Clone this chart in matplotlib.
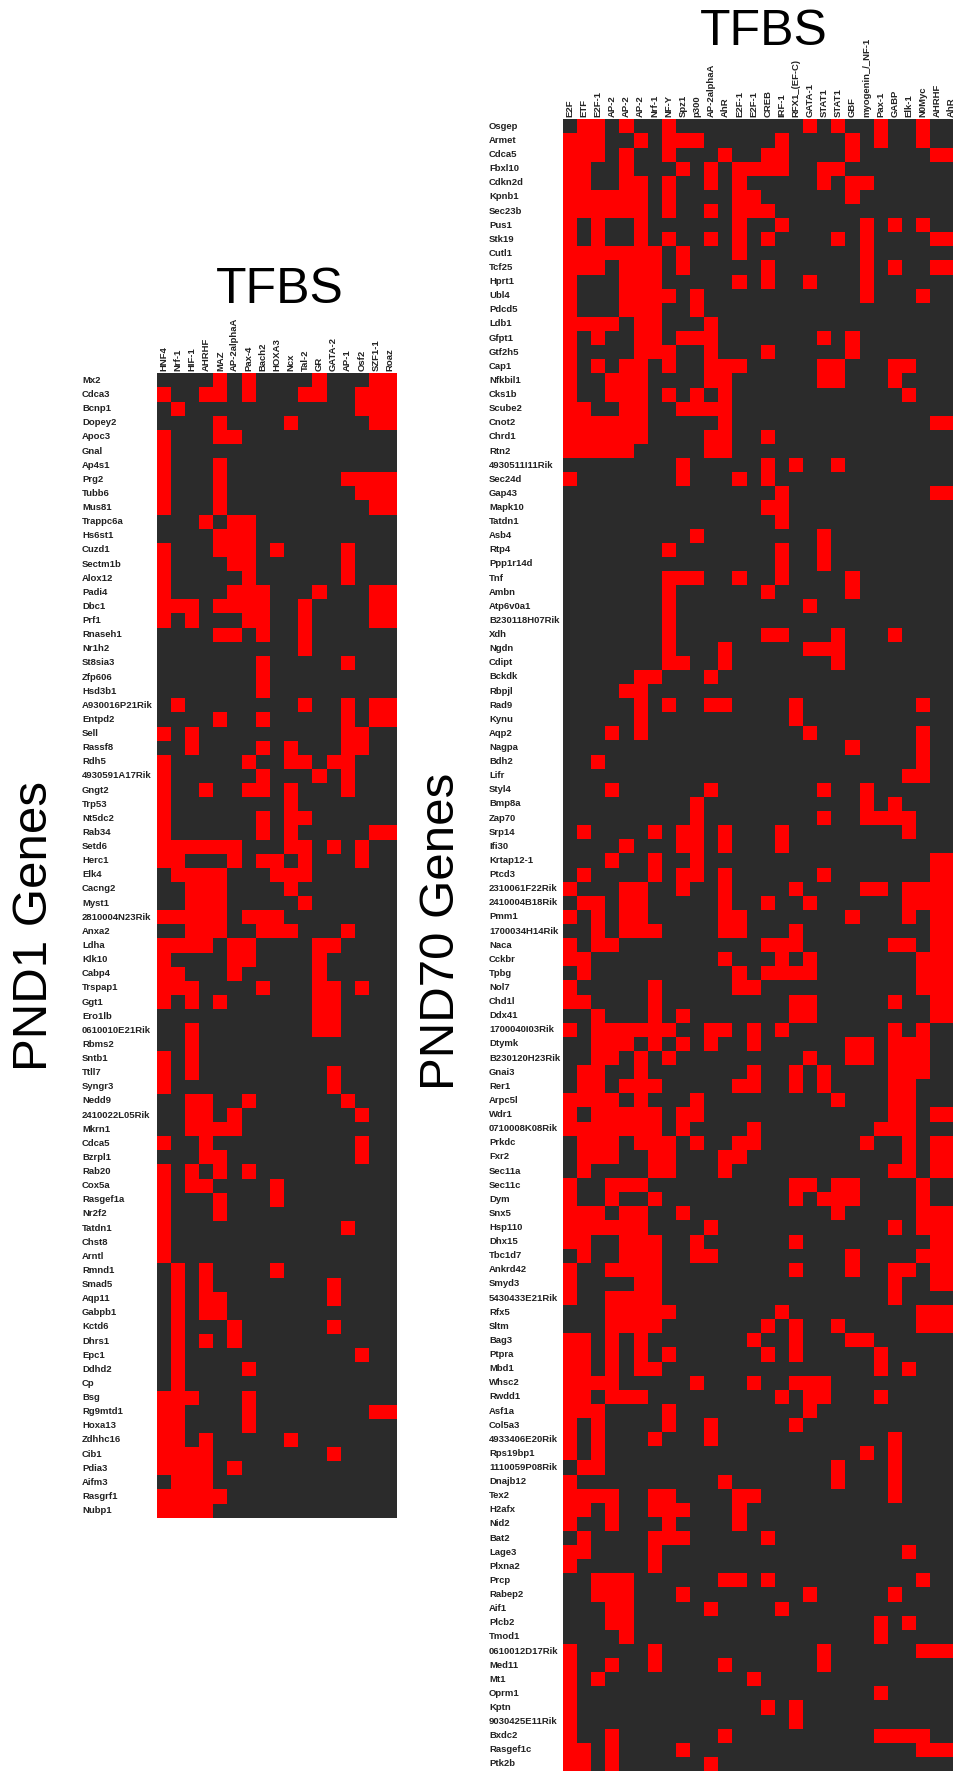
import numpy as np
import matplotlib
matplotlib.use("Agg")
import matplotlib.pyplot as plt
from matplotlib.colors import ListedColormap

plt.rcParams['font.family'] = ['Liberation Sans', 'DejaVu Sans']

# PND1 panel
pnd1_tfbs = ["HNF4", "Nrf-1", "HIF-1", "AHRHF", "MAZ", "AP-2alphaA", "Pax-4", "Bach2", "HOXA3",
             "Ncx", "Tal-2", "GR", "GATA-2", "AP-1", "Osf2", "SZF1-1", "Roaz"]
pnd1_genes = ["Mx2", "Cdca3", "Bcnp1", "Dopey2", "Apoc3", "Gnal", "Ap4s1", "Prg2", "Tubb6", "Mus81",
              "Trappc6a", "Hs6st1", "Cuzd1", "Sectm1b", "Alox12", "Padi4", "Dbc1", "Prf1", "Rnaseh1", "Nr1h2",
              "St8sia3", "Zfp606", "Hsd3b1", "A930016P21Rik", "Entpd2", "Sell", "Rassf8", "Rdh5", "4930591A17Rik", "Gngt2",
              "Trp53", "Nt5dc2", "Rab34", "Setd6", "Herc1", "Elk4", "Cacng2", "Myst1", "2810004N23Rik", "Anxa2",
              "Ldha", "Klk10", "Cabp4", "Trspap1", "Ggt1", "Ero1lb", "0610010E21Rik", "Rbms2", "Sntb1", "Ttll7",
              "Syngr3", "Nedd9", "2410022L05Rik", "Mkrn1", "Cdca5", "Bzrpl1", "Rab20", "Cox5a", "Rasgef1a", "Nr2f2",
              "Tatdn1", "Chst8", "Arntl", "Rmnd1", "Smad5", "Aqp11", "Gabpb1", "Kctd6", "Dhrs1", "Epc1",
              "Ddhd2", "Cp", "Bsg", "Rg9mtd1", "Hoxa13", "Zdhhc16", "Cib1", "Pdia3", "Aifm3", "Rasgrf1", "Nubp1"]
# for each gene, the columns that are red
pnd1_hits = [
    [4, 6, 11, 15, 16], [0, 3, 4, 6, 10, 11, 14, 15, 16], [1, 14, 15, 16], [4, 9, 15, 16],
    [0, 4, 5], [0], [0, 4], [0, 4, 13, 14, 15, 16], [0, 4, 14, 15, 16], [0, 4, 15, 16],
    [3, 5, 6], [4, 5, 6], [0, 4, 5, 6, 8, 13], [0, 5, 6, 13], [0, 6, 13],
    [0, 5, 6, 7, 11, 15, 16], [0, 1, 2, 4, 5, 6, 7, 10, 15, 16], [0, 2, 6, 7, 10, 15, 16],
    [4, 5, 7, 10], [10], [7, 13], [7], [7], [1, 10, 13, 15, 16], [4, 7, 13, 15, 16],
    [0, 2, 13, 14], [2, 7, 9, 13, 14], [0, 6, 9, 10, 12, 13], [0, 7, 11, 13], [0, 3, 6, 7, 9, 13],
    [0, 9], [0, 7, 9, 10], [0, 7, 9, 15, 16], [0, 1, 2, 3, 4, 5, 9, 10, 12, 14],
    [0, 1, 5, 7, 8, 10, 14], [1, 2, 3, 4, 8, 9, 10], [2, 3, 4, 9], [2, 3, 4, 10],
    [0, 1, 2, 3, 4, 6, 7, 8], [2, 3, 4, 7, 8, 9, 13],
    [0, 1, 2, 3, 5, 6, 11, 12], [0, 5, 6, 11], [0, 1, 5, 11], [0, 1, 2, 7, 11, 12, 14], [0, 2, 4, 11, 12],
    [11, 12], [2, 11, 12], [2], [0, 2], [0, 2, 12], [0, 12], [2, 3, 6, 13], [2, 3, 5, 14], [2, 3, 4, 5],
    [0, 3, 14], [3, 4, 14], [0, 2, 4, 6], [0, 2, 3, 8], [0, 4, 8], [0, 4], [0, 13], [0], [0],
    [1, 3, 8], [1, 3, 12], [1, 3, 4, 12], [1, 3, 4], [1, 5, 12], [1, 3, 5], [1, 14], [1, 6], [1],
    [0, 1, 2, 6], [0, 1, 6, 15, 16], [0, 1, 6], [0, 1, 3, 9], [0, 1, 2, 3, 12], [0, 1, 2, 3, 5],
    [1, 2, 3], [0, 1, 2, 3, 4], [0, 1, 2, 3],
]

# PND70 panel (runs off the right edge of the picture)
pnd70_tfbs = ["E2F", "ETF", "E2F-1", "AP-2", "AP-2", "AP-2", "Nrf-1", "NF-Y", "Spz1", "p300",
              "AP-2alphaA", "AhR", "E2F-1", "E2F-1", "CREB", "IRF-1", "RFX1_(EF-C)", "GATA-1", "STAT1", "STAT1",
              "GBF", "myogenin_/_NF-1", "Pax-1", "GABP", "Elk-1", "N0Myc", "AHRHF", "AhR"]
pnd70_genes = ["Osgep", "Armet", "Cdca5", "Fbxl10", "Cdkn2d", "Kpnb1", "Sec23b", "Pus1", "Stk19", "Cutl1",
               "Tcf25", "Hprt1", "Ubl4", "Pdcd5", "Ldb1", "Gfpt1", "Gtf2h5", "Cap1", "Nfkbil1", "Cks1b",
               "Scube2", "Cnot2", "Chrd1", "Rtn2", "4930511I11Rik", "Sec24d", "Gap43", "Mapk10", "Tatdn1", "Asb4",
               "Rtp4", "Ppp1r14d", "Tnf", "Ambn", "Atp6v0a1", "B230118H07Rik", "Xdh", "Ngdn", "Cdipt", "Bckdk",
               "Rbpjl", "Rad9", "Kynu", "Aqp2", "Nagpa", "Bdh2", "Lifr", "Styl4", "Bmp8a", "Zap70",
               "Srp14", "Ifi30", "Krtap12-1", "Ptcd3", "2310061F22Rik", "2410004B18Rik", "Pmm1", "1700034H14Rik", "Naca", "Cckbr",
               "Tpbg", "Nol7", "Chd1l", "Ddx41", "1700040I03Rik", "Dtymk", "B230120H23Rik", "Gnai3", "Rer1", "Arpc5l",
               "Wdr1", "0710008K08Rik", "Prkdc", "Fxr2", "Sec11a", "Sec11c", "Dym", "Snx5", "Hsp110", "Dhx15",
               "Tbc1d7", "Ankrd42", "Smyd3", "5430433E21Rik", "Rfx5", "Sltm", "Bag3", "Ptpra", "Mbd1", "Whsc2",
               "Rwdd1", "Asf1a", "Col5a3", "4933406E20Rik", "Rps19bp1", "1110059P08Rik", "Dnajb12", "Tex2", "H2afx", "Nid2",
               "Bat2", "Lage3", "Plxna2", "Prcp", "Rabep2", "Aif1", "Plcb2", "Tmod1", "0610012D17Rik", "Med11",
               "Mt1", "Oprm1", "Kptn", "9030425E11Rik", "Bxdc2", "Rasgef1c", "Ptk2b"]
pnd70_hits = [
    [1, 2, 4, 7, 17, 19, 22, 25],
    [0, 1, 2, 5, 7, 8, 9, 15, 20, 22, 25],
    [0, 1, 2, 4, 7, 11, 14, 15, 20, 26, 27],
    [0, 1, 4, 8, 10, 12, 13, 14, 15, 18, 19],
    [0, 1, 4, 5, 7, 10, 12, 18, 20, 21],
    [0, 1, 2, 3, 4, 5, 7, 12, 13, 20],
    [0, 1, 2, 3, 4, 5, 7, 10, 12, 13, 14],
    [0, 2, 5, 12, 15, 21, 23, 25],
    [0, 2, 5, 7, 10, 12, 14, 19, 21, 26, 27],
    [0, 1, 2, 3, 4, 5, 6, 8, 12, 21],
    [0, 1, 2, 4, 5, 6, 8, 14, 21, 23, 26, 27],
    [0, 4, 5, 6, 12, 14, 17, 21],
    [0, 4, 5, 6, 7, 9, 21, 25],
    [0, 4, 5, 6, 9],
    [0, 1, 2, 3, 5, 6, 10],
    [0, 2, 5, 6, 8, 9, 10, 18, 20],
    [0, 5, 6, 7, 10, 14, 20],
    [0, 2, 4, 5, 7, 10, 11, 12, 18, 19, 23, 24],
    [0, 3, 4, 5, 10, 11, 18, 19, 23],
    [0, 3, 4, 5, 7, 9, 11, 24],
    [0, 1, 4, 5, 8, 9, 10, 11],
    [0, 1, 2, 3, 4, 5, 11, 26, 27],
    [0, 1, 2, 3, 4, 5, 10, 11, 14],
    [0, 1, 2, 3, 4, 10, 11],
    [8, 14, 16, 19],
    [0, 8, 12, 14],
    [15, 26, 27],
    [14, 15],
    [15],
    [9, 18],
    [7, 15, 18],
    [15, 18],
    [7, 8, 9, 12, 15, 20],
    [7, 14, 20],
    [7, 17],
    [7],
    [7, 14, 15, 19, 23],
    [7, 11, 17, 18, 19],
    [7, 8, 11, 19],
    [5, 6, 10],
    [4, 5],
    [5, 7, 10, 11, 16, 25],
    [5, 16],
    [3, 5, 17, 25],
    [20, 25],
    [2, 25],
    [24, 25],
    [3, 10, 18, 21],
    [9, 21, 23],
    [9, 18, 21, 22, 23, 24],
    [1, 6, 8, 9, 11, 15, 24],
    [4, 8, 9, 11, 15],
    [3, 6, 9, 26, 27],
    [1, 6, 8, 9, 11, 18, 26, 27],
    [0, 4, 5, 8, 11, 16, 21, 22, 24, 25, 26, 27],
    [1, 2, 4, 5, 11, 14, 17, 24, 25, 26, 27],
    [0, 2, 4, 5, 11, 12, 20, 24, 26, 27],
    [2, 4, 5, 6, 11, 12, 16, 26, 27],
    [0, 2, 3, 14, 15, 16, 23, 24, 26, 27],
    [0, 1, 11, 15, 17, 25, 26, 27],
    [1, 12, 14, 15, 16, 17, 25, 26, 27],
    [0, 6, 12, 13, 25, 26, 27],
    [0, 1, 6, 16, 17, 23, 26, 27],
    [2, 6, 8, 16, 17, 26, 27],
    [0, 2, 3, 4, 5, 6, 7, 10, 11, 13, 15, 23, 25],
    [2, 3, 4, 6, 8, 10, 13, 20, 21, 23, 24, 25],
    [2, 3, 5, 7, 17, 20, 21, 23, 24, 25],
    [1, 2, 5, 13, 16, 18, 23, 24, 25],
    [1, 2, 4, 5, 6, 12, 13, 16, 18, 23, 24],
    [0, 1, 2, 3, 5, 9, 19, 23, 24],
    [0, 2, 3, 4, 5, 6, 8, 9, 23, 24, 26, 27],
    [0, 1, 2, 3, 4, 5, 6, 8, 13, 22, 23, 24],
    [1, 2, 3, 5, 6, 7, 9, 12, 13, 21, 24, 26, 27],
    [1, 2, 3, 6, 7, 11, 12, 24, 26, 27],
    [1, 6, 7, 11, 23, 24, 26, 27],
    [0, 3, 4, 5, 16, 17, 19, 20, 25],
    [0, 3, 6, 16, 18, 19, 20, 25],
    [0, 1, 2, 4, 5, 8, 19, 25, 26, 27],
    [0, 1, 2, 3, 4, 5, 10, 23, 25, 26, 27],
    [0, 1, 4, 5, 6, 9, 16, 26, 27],
    [1, 4, 5, 6, 9, 10, 20, 25, 26, 27],
    [0, 3, 4, 5, 6, 16, 20, 23, 24, 26, 27],
    [0, 5, 6, 23, 26, 27],
    [0, 3, 4, 5, 6, 23],
    [3, 4, 5, 6, 7, 15, 25, 26, 27],
    [3, 4, 5, 6, 14, 16, 19, 25, 26, 27],
    [0, 1, 3, 5, 13, 16, 20, 21],
    [0, 1, 3, 5, 7, 14, 16, 22],
    [0, 1, 3, 5, 6, 22, 24],
    [0, 1, 2, 3, 9, 13, 16, 17, 18],
    [0, 1, 3, 4, 5, 15, 17, 18, 22],
    [0, 1, 2, 7, 17],
    [0, 2, 7, 10, 16],
    [0, 2, 6, 10, 23],
    [0, 2, 21, 23],
    [1, 2, 19, 23],
    [0, 11, 19, 23],
    [0, 1, 2, 3, 6, 7, 12, 13, 23],
    [0, 1, 3, 6, 7, 8, 12],
    [0, 3, 7, 12],
    [1, 6, 7, 8, 14],
    [0, 1, 6, 24],
    [0, 6],
    [2, 3, 4, 11, 12, 14, 25],
    [2, 3, 4, 8, 17, 23],
    [3, 4, 10, 15],
    [3, 4, 22, 24],
    [4, 22],
    [0, 6, 18, 25, 26, 27],
    [0, 3, 6, 11, 18],
    [0, 2, 13],
    [0, 22],
    [0, 14, 16],
    [0, 16],
    [0, 3, 11, 22, 23, 24, 25],
    [0, 1, 3, 8, 25, 26, 27],
    [0, 1, 3, 10],
]

W, H = 954, 1771
cmap = ListedColormap(['#2b2b2b', '#ff0000'])


def draw_panel(fig, box, tfbs, genes, hits, shown_cols, label_pad):
    # box is left, top, right, bottom in pixels of the picture
    left, top, right, bottom = box
    ax = fig.add_axes([left / W, 1 - bottom / H, (right - left) / W, (bottom - top) / H])

    grid = np.zeros((len(genes), len(tfbs)))
    for i, cols in enumerate(hits):
        grid[i, cols] = 1

    ax.pcolormesh(grid, cmap=cmap, vmin=0, vmax=1, antialiased=False)
    ax.set_xlim(0, shown_cols)
    ax.set_ylim(len(genes), 0)

    for spine in ax.spines.values():
        spine.set_visible(False)

    ax.xaxis.tick_top()
    ax.set_xticks(np.arange(len(tfbs)) + 0.5)
    ax.set_xticklabels(tfbs, rotation=90, fontsize=6.8, fontweight='bold', color='#222222', ha='center', va='bottom')
    ax.set_yticks(np.arange(len(genes)) + 0.5)
    ax.set_yticklabels(genes, fontsize=6.8, fontweight='bold', color='#222222', ha='left', va='center')
    ax.tick_params(axis='x', length=0, pad=2)
    ax.tick_params(axis='y', length=0, pad=label_pad)
    return ax


fig = plt.figure(figsize=(W / 100, H / 100), dpi=100, facecolor='white')

draw_panel(fig, (156.7, 373.3, 397.3, 1517.7), pnd1_tfbs, pnd1_genes, pnd1_hits, 17, 53.8)
draw_panel(fig, (563, 119.3, 954, 1771), pnd70_tfbs, pnd70_genes, pnd70_hits, 391 / 14.12, 53.3)

# big panel titles, positions in picture pixels
fig.text(280 / W, 1 - 290 / H, "TFBS", fontsize=36, ha='center', va='center')
fig.text(764 / W, 1 - 32 / H, "TFBS", fontsize=36, ha='center', va='center')
fig.text(35 / W, 1 - 926 / H, "PND1 Genes", fontsize=35.5, rotation=90, ha='center', va='center')
fig.text(442 / W, 1 - 931 / H, "PND70 Genes", fontsize=35.5, rotation=90, ha='center', va='center')

fig.savefig("out.png", dpi=100)
